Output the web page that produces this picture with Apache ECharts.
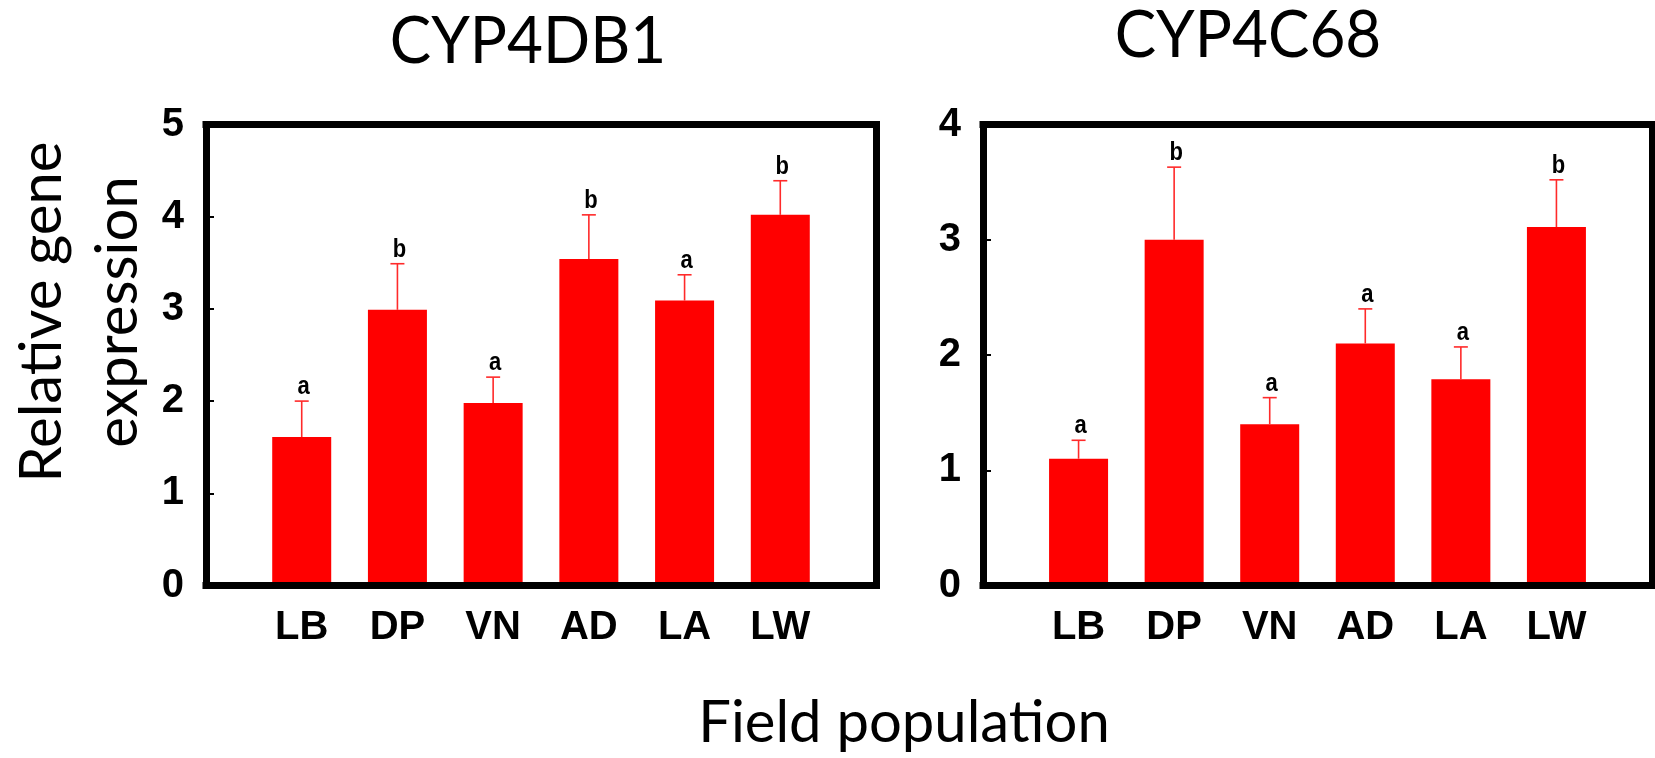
<!DOCTYPE html>
<html>
<head>
<meta charset="utf-8">
<script src="https://cdn.jsdelivr.net/npm/echarts@6/dist/echarts.min.js"></script>
<style>
  html, body { margin: 0; padding: 0; background: #fff; }
  #chart { width: 1655px; height: 758px; }
</style>
</head>
<body>
<div id="chart"></div>
<script>
// Field populations along the x axis
const populations = ['LB', 'DP', 'VN', 'AD', 'LA', 'LW'];

// CYP4DB1: mean relative expression, standard error, significance letters
const cyp4db1Mean = [1.61, 2.99, 1.98, 3.54, 3.09, 4.02];
const cyp4db1Err = [0.39, 0.50, 0.28, 0.48, 0.28, 0.37];
const cyp4db1Letters = ['a', 'b', 'a', 'b', 'a', 'b'];

// CYP4C68: mean relative expression, standard error, significance letters
const cyp4c68Mean = [1.10, 3.00, 1.40, 2.10, 1.79, 3.11];
const cyp4c68Err = [0.16, 0.63, 0.23, 0.30, 0.28, 0.41];
const cyp4c68Letters = ['a', 'b', 'a', 'a', 'a', 'b'];

// Tick labels of the two y axes
const yTicksLeft = [0, 1, 2, 3, 4, 5];
const yTicksRight = [0, 1, 2, 3, 4];

const RED = '#ff0000';
const FRAME = { color: '#000', width: 7, cap: 'square' };
const TICK_FONT = { fontFamily: 'Liberation Sans, Arial, sans-serif', fontWeight: 'bold', fontSize: 40, color: '#000' };

const chart = echarts.init(document.getElementById('chart'), null, { renderer: 'canvas' });

function bottomAxis(grid) {
  return {
    type: 'value', gridIndex: grid, position: 'bottom', min: 0, max: 7, interval: 1, z: 5,
    axisLine: { show: true, onZero: false, lineStyle: FRAME },
    axisTick: { show: false }, splitLine: { show: false },
    axisLabel: Object.assign({
      margin: 22, showMinLabel: true, showMaxLabel: true,
      formatter: v => (Number.isInteger(v) && v >= 1 && v <= populations.length) ? populations[v - 1] : ''
    }, TICK_FONT)
  };
}
function topAxis(grid) {
  return {
    type: 'value', gridIndex: grid, position: 'top', min: 0, max: 7, interval: 1, z: 5,
    axisLine: { show: true, onZero: false, lineStyle: FRAME },
    axisTick: { show: false }, axisLabel: { show: false }, splitLine: { show: false }
  };
}
function leftAxis(grid, ticks) {
  return {
    type: 'value', gridIndex: grid, position: 'left', min: ticks[0], max: ticks[ticks.length - 1], interval: 1, z: 5,
    axisLine: { show: true, onZero: false, lineStyle: FRAME },
    axisTick: { show: true, inside: true, length: 8, lineStyle: { color: '#000', width: 2 } },
    splitLine: { show: false },
    axisLabel: Object.assign({ margin: 22 }, TICK_FONT)
  };
}
function rightAxis(grid, ticks) {
  return {
    type: 'value', gridIndex: grid, position: 'right', min: ticks[0], max: ticks[ticks.length - 1], interval: 1, z: 5,
    axisLine: { show: true, onZero: false, lineStyle: FRAME },
    axisTick: { show: false }, axisLabel: { show: false }, splitLine: { show: false }
  };
}

function barSeries(axis, means) {
  return {
    type: 'bar', xAxisIndex: axis, yAxisIndex: axis, barWidth: 59, z: 2,
    itemStyle: { color: RED },
    data: means.map((m, i) => [i + 1, m])
  };
}

// Error bar (upper whisker with cap) plus significance letter above it
function errorSeries(axis, means, errs, letters) {
  return {
    type: 'custom', xAxisIndex: axis, yAxisIndex: axis, z: 3,
    data: means.map((m, i) => [i + 1, m, m + errs[i], letters[i]]),
    renderItem: function (params, api) {
      const x = api.value(0);
      const base = api.coord([x, api.value(1)]);
      const top = api.coord([x, api.value(2)]);
      const half = 7;
      const stroke = { stroke: '#ff2a2a', lineWidth: 1.6 };
      return {
        type: 'group',
        children: [
          { type: 'line', shape: { x1: base[0], y1: base[1], x2: top[0], y2: top[1] }, style: stroke },
          { type: 'line', shape: { x1: top[0] - half, y1: top[1], x2: top[0] + half, y2: top[1] }, style: stroke },
          {
            type: 'text', x: top[0] + 2, y: top[1] - 1, scaleY: 1.2,
            style: {
              text: api.value(3), fill: '#000',
              font: 'bold 22px "Liberation Sans", Arial, sans-serif',
              align: 'center', verticalAlign: 'bottom'
            }
          }
        ]
      };
    }
  };
}

const option = {
  animation: false,
  backgroundColor: '#fff',
  grid: [
    { left: 206, top: 124.5, width: 670, height: 461 },
    { left: 983, top: 124.5, width: 669, height: 461 }
  ],
  xAxis: [bottomAxis(0), topAxis(0), bottomAxis(1), topAxis(1)],
  yAxis: [leftAxis(0, yTicksLeft), rightAxis(0, yTicksLeft), leftAxis(1, yTicksRight), rightAxis(1, yTicksRight)],
  series: [
    barSeries(0, cyp4db1Mean),
    errorSeries(0, cyp4db1Mean, cyp4db1Err, cyp4db1Letters),
    barSeries(2, cyp4c68Mean),
    errorSeries(2, cyp4c68Mean, cyp4c68Err, cyp4c68Letters)
  ],
  graphic: [
    {
      type: 'text', x: 528, y: 42, scaleY: 1.06,
      style: { text: 'CYP4DB1', font: '62px Lato, "Open Sans", sans-serif', fill: '#000', align: 'center', verticalAlign: 'middle' }
    },
    {
      type: 'text', x: 1248, y: 36, scaleY: 1.06,
      style: { text: 'CYP4C68', font: '62px Lato, "Open Sans", sans-serif', fill: '#000', align: 'center', verticalAlign: 'middle' }
    },
    {
      type: 'text', x: 80, y: 312, rotation: Math.PI / 2,
      style: {
        text: 'Relative gene\nexpression', font: '58px Lato, "Open Sans", sans-serif',
        lineHeight: 76, fill: '#000', align: 'center', verticalAlign: 'middle'
      }
    },
    {
      type: 'text', x: 904, y: 723,
      style: { text: 'Field population', font: '58px Lato, "Open Sans", sans-serif', fill: '#000', align: 'center', verticalAlign: 'middle' }
    }
  ]
};

chart.setOption(option);
</script>
</body>
</html>
